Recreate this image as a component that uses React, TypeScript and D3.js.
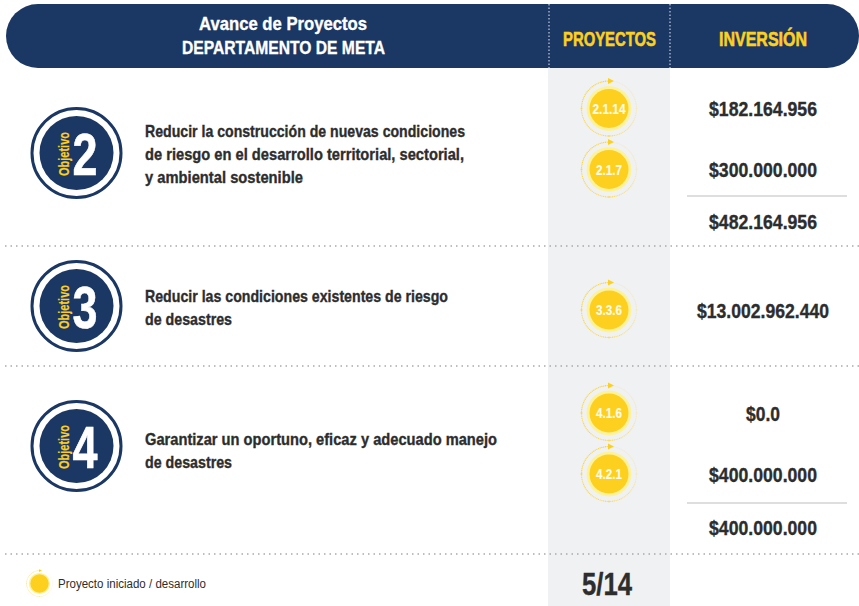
import React from "react";
import * as d3 from "d3";

const headerTitle = ["Avance de Proyectos", "DEPARTAMENTO DE META"];
const columnTitles = ["PROYECTOS", "INVERSIÓN"];
const objectiveNumbers = ["2", "3", "4"];
const objectiveTexts = [
  ["Reducir la construcción de nuevas condiciones", "de riesgo en el desarrollo territorial, sectorial,", "y ambiental sostenible"],
  ["Reducir las condiciones existentes de riesgo", "de desastres"],
  ["Garantizar un oportuno, eficaz y adecuado manejo", "de desastres"],
];
const projectCodes = ["2.1.14", "2.1.7", "3.3.6", "4.1.6", "4.2.1"];
const projectInvestments = ["$182.164.956", "$300.000.000", "$13.002.962.440", "$0.0", "$400.000.000"];
const subtotals = ["$482.164.956", "$400.000.000"];
const legendLabel = "Proyecto iniciado / desarrollo";
const totalLabel = "5/14";

const NAVY = "#1b3764";
const YELLOW = "#fdd01f";
const INK = "#2d2d2d";
const FONT = "'Liberation Sans', Arial, sans-serif";

const objY = [153, 306, 446];
const objTextY = [137, 302, 445];
const objTextW = [[320, 319, 158], [303, 87], [352, 87]];
const projY = [108.5, 169.5, 310, 413, 474];
const valueW = [108, 108, 132, 34, 108];
const codeW = [33, 26, 26, 26, 26];
const subY = [221, 527];
const ruleY = [196, 503];
const sepY = [246, 366, 554];

const ringTicks = d3.range(0, 96);
const ringOpacity = d3.scaleLinear().domain([0, 24, 48, 96]).range([0.14, 0.22, 0.7, 0.95]);
const angle = d3.scaleLinear().domain([0, 96]).range([0, 2 * Math.PI]);

function Label(props: any) {
  const { w, children, fill, weight = 0.35, ...rest } = props;
  return (
    <text fontFamily={FONT} fontWeight={700} fill={fill} stroke={fill} strokeWidth={weight} textLength={w} lengthAdjust="spacingAndGlyphs" {...rest}>
      {children}
    </text>
  );
}

function Badge({ cx, cy, code, w, k = 1 }: { cx: number; cy: number; code?: string; w?: number; k?: number }) {
  return (
    <g transform={`translate(${cx},${cy}) scale(${k})`}>
      {ringTicks.map((i) => {
        const [x, y] = d3.pointRadial(angle(i), 27.5);
        return <circle key={i} cx={x} cy={y} r={i % 24 === 0 ? 1 : 0.65} fill={YELLOW} opacity={ringOpacity(i)} />;
      })}
      <path d="M-1,-30.5 L5,-27.5 L-1,-24.5 Z" fill={YELLOW} />
      <circle r={22.5} fill="#fdf29c" />
      <circle r={19.5} fill={YELLOW} />
      {code && (
        <Label x={0} y={5.3} textAnchor="middle" fontSize={15} fill="#fffbe8" w={w} weight={0.15}>
          {code}
        </Label>
      )}
    </g>
  );
}

export default function App() {
  const header = d3.path();
  const [x0, x1, y0, y1, r] = [6, 859, 4, 68, 32];
  header.moveTo(x0 + r, y0);
  header.lineTo(x1 - r, y0);
  header.arc(x1 - r, y0 + r, r, -Math.PI / 2, Math.PI / 2);
  header.lineTo(x0 + r, y1);
  header.arc(x0 + r, y0 + r, r, Math.PI / 2, -Math.PI / 2);
  header.closePath();

  return (
    <svg width={859} height={606} style={{ position: "absolute", left: 0, top: 0, background: "#fff" }}>
      <rect x={548} y={68} width={122} height={538} fill="#f0f1f3" />
      <path d={header.toString()} fill={NAVY} />
      {[549, 670].map((x) => (
        <line key={x} x1={x} x2={x} y1={4} y2={68} stroke="#e8ecf2" strokeWidth={1} strokeDasharray="1.5 2" />
      ))}
      <Label x={283} y={30} textAnchor="middle" fontSize={19} fill="#fff" w={168}>{headerTitle[0]}</Label>
      <Label x={283.5} y={54} textAnchor="middle" fontSize={19} fill="#fff" w={203}>{headerTitle[1]}</Label>
      <Label x={609.5} y={45.5} textAnchor="middle" fontSize={21} fill={YELLOW} w={93} weight={0.6}>{columnTitles[0]}</Label>
      <Label x={763} y={45.5} textAnchor="middle" fontSize={21} fill={YELLOW} w={88} weight={0.6}>{columnTitles[1]}</Label>

      {sepY.map((y) => (
        <line key={y} x1={5} x2={859} y1={y} y2={y} stroke="#a9a9a9" strokeWidth={1.5} strokeDasharray="1.5 4" />
      ))}
      {ruleY.map((y) => (
        <line key={y} x1={687} x2={847} y1={y} y2={y} stroke="#bdbdbd" strokeWidth={1.2} />
      ))}

      {objectiveNumbers.map((n, i) => (
        <g key={n} transform={`translate(76.5,${objY[i]})`}>
          <circle r={44.5} fill="#fff" stroke={NAVY} strokeWidth={3} />
          <circle r={37} fill={NAVY} />
          <Label x={8.5} y={22} textAnchor="middle" fontSize={60} fill="#fff" w={25} weight={0.6}>{n}</Label>
          <Label transform="translate(-7.5,1) rotate(-90)" textAnchor="middle" fontSize={14.5} fill={YELLOW} w={44} weight={0.2}>Objetivo</Label>
        </g>
      ))}
      {objectiveTexts.map((lines, i) => (
        <g key={i}>
          {lines.map((l, j) => (
            <Label key={j} x={145} y={objTextY[i] + j * 23} fontSize={17} fill={INK} w={objTextW[i][j]}>{l}</Label>
          ))}
        </g>
      ))}

      {projectCodes.map((c, i) => (
        <Badge key={c} cx={609} cy={projY[i]} code={c} w={codeW[i]} />
      ))}
      {projectInvestments.map((v, i) => (
        <Label key={i} x={763} y={projY[i] + 7.5} textAnchor="middle" fontSize={20} fill={INK} w={valueW[i]}>{v}</Label>
      ))}
      {subtotals.map((v, i) => (
        <Label key={i} x={763} y={subY[i] + 7.5} textAnchor="middle" fontSize={20} fill={INK} w={108}>{v}</Label>
      ))}

      <Badge cx={39.5} cy={583.5} k={0.47} />
      <text x={58} y={588} fontFamily={FONT} fontSize={12.5} fill={INK} textLength={148} lengthAdjust="spacingAndGlyphs">{legendLabel}</text>
      <Label x={607} y={595} textAnchor="middle" fontSize={31} fill={INK} w={50}>{totalLabel}</Label>
    </svg>
  );
}
